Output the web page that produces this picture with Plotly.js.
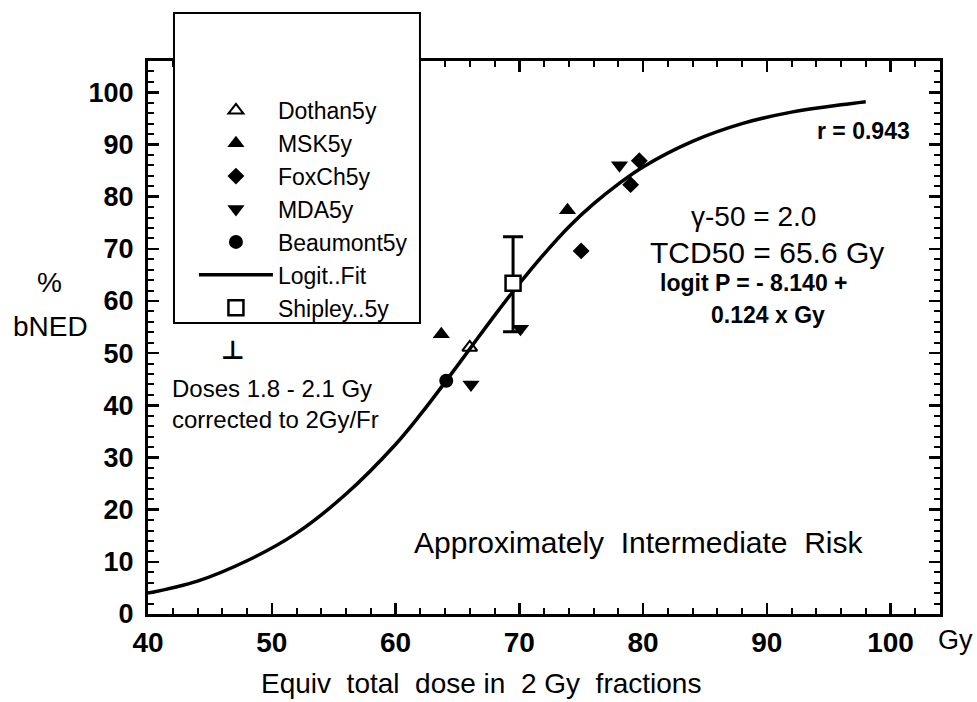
<!DOCTYPE html>
<html>
<head>
<meta charset="utf-8">
<script src="https://cdn.plot.ly/plotly-3.0.1.min.js"></script>
<style>html,body{margin:0;padding:0;background:#fff;}#chart{width:977px;height:702px;}</style>
</head>
<body>
<div id="chart"></div>
<script>
// Logit fit curve
const fitDose = [40,44,48,52,56,60,62,64,66,68,70,72,74,76,78,80,84,88,92,96,98];
const fitBned = [4.0,6.3,10.2,15.5,23.0,32.5,38.2,44.4,50.8,57.2,63.3,69.0,74.2,78.6,82.4,85.7,90.6,94.0,96.2,97.6,98.2];

// Data points
const dothanDose = [66.0];
const dothanBned = [51.1];
const mskDose = [63.7, 73.9];
const mskBned = [53.6, 77.4];
const foxDose = [75.0, 79.0, 79.7];
const foxBned = [69.6, 82.3, 86.9];
const mdaDose = [66.1, 70.1, 78.1];
const mdaBned = [44.0, 54.7, 86.0];
const beaumontDose = [64.1];
const beaumontBned = [44.7];
const shipleyDose = [69.5];
const shipleyBned = [63.4];
const shipleyErrUp = [8.9];
const shipleyErrDown = [9.3];

const xTickVals = [40,50,60,70,80,90,100];
const yTickVals = [0,10,20,30,40,50,60,70,80,90,100];

const FONT = 'Liberation Sans, Arial, sans-serif';

const traces = [
  {x: fitDose, y: fitBned, mode: 'lines', name: 'Logit..Fit', legendrank: 6,
   line: {color: '#000', width: 3.5, shape: 'spline'}},
  {x: shipleyDose, y: shipleyBned, mode: 'markers', name: 'Shipley..5y', legendrank: 7,
   marker: {symbol: 'square', size: 15, color: '#fff', line: {color: '#000', width: 2.5}},
   error_y: {type: 'data', array: shipleyErrUp, arrayminus: shipleyErrDown, symmetric: false,
             color: '#000', thickness: 3, width: 10}},
  {x: dothanDose, y: dothanBned, mode: 'markers', name: 'Dothan5y', legendrank: 1,
   marker: {symbol: 'triangle-up-open', size: 13, color: '#000', line: {color: '#000', width: 2}}},
  {x: mskDose, y: mskBned, mode: 'markers', name: 'MSK5y', legendrank: 2,
   marker: {symbol: 'triangle-up', size: 15, color: '#000'}},
  {x: foxDose, y: foxBned, mode: 'markers', name: 'FoxCh5y', legendrank: 3,
   marker: {symbol: 'diamond', size: 13, color: '#000'}},
  {x: mdaDose, y: mdaBned, mode: 'markers', name: 'MDA5y', legendrank: 4,
   marker: {symbol: 'triangle-down', size: 15, color: '#000'}},
  {x: beaumontDose, y: beaumontBned, mode: 'markers', name: 'Beaumont5y', legendrank: 5,
   marker: {symbol: 'circle', size: 14, color: '#000'}}
];

const axisCommon = {
  showgrid: false, zeroline: false, showline: true, linecolor: '#000', linewidth: 3,
  mirror: 'ticks', ticks: 'inside', ticklen: 11, tickwidth: 2.5, tickcolor: '#000'
};

const layout = {
  width: 977, height: 702,
  margin: {l: 148, r: 37, t: 61, b: 88},
  paper_bgcolor: '#fff', plot_bgcolor: '#fff',
  font: {family: FONT, color: '#000'},
  showlegend: true,
  legend: {
    x: 0.058, y: 0.9496, xanchor: 'left', yanchor: 'top',
    bgcolor: 'rgba(0,0,0,0)', borderwidth: 0,
    font: {family: FONT, size: 23, color: '#000'},
    itemwidth: 74, traceorder: 'normal'
  },
  xaxis: Object.assign({}, axisCommon, {
    range: [40, 104], tickvals: xTickVals, ticktext: xTickVals.map(String),
    ticklabelstandoff: 1,
    tickfont: {family: FONT, size: 28, weight: 'bold', color: '#000'},
    minor: {dtick: 2, tick0: 40, ticks: 'inside', ticklen: 6, tickwidth: 2, tickcolor: '#000'}
  }),
  yaxis: Object.assign({}, axisCommon, {
    range: [0, 106], tickvals: yTickVals, ticktext: yTickVals.map(String),
    ticklabelstandoff: 6,
    tickfont: {family: FONT, size: 27, weight: 'bold', color: '#000'},
    minor: {dtick: 2, tick0: 0, ticks: 'inside', ticklen: 6, tickwidth: 2, tickcolor: '#000'}
  }),
  shapes: [
    {type: 'rect', xref: 'paper', yref: 'paper', x0: 0.0328, x1: 0.3434, y0: 0.5262, y1: 1.0868,
     fillcolor: '#fff', line: {color: '#000', width: 2}, layer: 'above'}
  ],
  annotations: [
    {xref: 'x', yref: 'y', x: 101.7, y: 92.5, xanchor: 'right', yanchor: 'middle', showarrow: false,
     text: 'r = 0.943', font: {family: FONT, size: 23, weight: 'bold'}},
    {xref: 'x', yref: 'y', x: 88.95, y: 76.1, xanchor: 'center', yanchor: 'middle', showarrow: false,
     text: 'γ-50 = 2.0', font: {family: FONT, size: 28}},
    {xref: 'x', yref: 'y', x: 90.0, y: 69.2, xanchor: 'center', yanchor: 'middle', showarrow: false,
     text: 'TCD50 = 65.6 Gy', font: {family: FONT, size: 30}},
    {xref: 'x', yref: 'y', x: 89.0, y: 63.5, xanchor: 'center', yanchor: 'middle', showarrow: false,
     text: 'logit P = - 8.140 +', font: {family: FONT, size: 23, weight: 'bold'}},
    {xref: 'x', yref: 'y', x: 90.1, y: 57.3, xanchor: 'center', yanchor: 'middle', showarrow: false,
     text: '0.124 x Gy', font: {family: FONT, size: 23, weight: 'bold'}},
    {xref: 'x', yref: 'y', x: 79.7, y: 13.8, xanchor: 'center', yanchor: 'middle', showarrow: false,
     text: 'Approximately\u00a0 Intermediate\u00a0 Risk', font: {family: FONT, size: 30}},
    {xref: 'x', yref: 'y', x: 41.8, y: 43.3, xanchor: 'left', yanchor: 'middle', showarrow: false,
     text: 'Doses 1.8 - 2.1 Gy', font: {family: FONT, size: 24}},
    {xref: 'x', yref: 'y', x: 41.8, y: 37.2, xanchor: 'left', yanchor: 'middle', showarrow: false,
     text: 'corrected to 2Gy/Fr', font: {family: FONT, size: 24}},
    {xref: 'x', yref: 'y', x: 46.85, y: 50.6, xanchor: 'center', yanchor: 'middle', showarrow: false,
     text: '⊥', font: {family: 'DejaVu Sans, ' + FONT, size: 26, weight: 'bold'}},
    {xref: 'paper', yref: 'paper', x: 1.019, y: -0.047, xanchor: 'center', yanchor: 'middle', showarrow: false,
     text: 'Gy', font: {family: FONT, size: 27}},
    {xref: 'paper', yref: 'paper', x: 0.420, y: -0.125, xanchor: 'center', yanchor: 'middle', showarrow: false,
     text: 'Equiv\u00a0 total\u00a0 dose in\u00a0 2 Gy\u00a0 fractions', font: {family: FONT, size: 28}},
    {xref: 'paper', yref: 'paper', x: -0.124, y: 0.5986, xanchor: 'center', yanchor: 'middle', showarrow: false,
     text: '%', font: {family: FONT, size: 28}},
    {xref: 'paper', yref: 'paper', x: -0.123, y: 0.519, xanchor: 'center', yanchor: 'middle', showarrow: false,
     text: 'bNED', font: {family: FONT, size: 28}}
  ]
};

Plotly.newPlot('chart', traces, layout, {displayModeBar: false, staticPlot: true});
</script>
</body>
</html>
